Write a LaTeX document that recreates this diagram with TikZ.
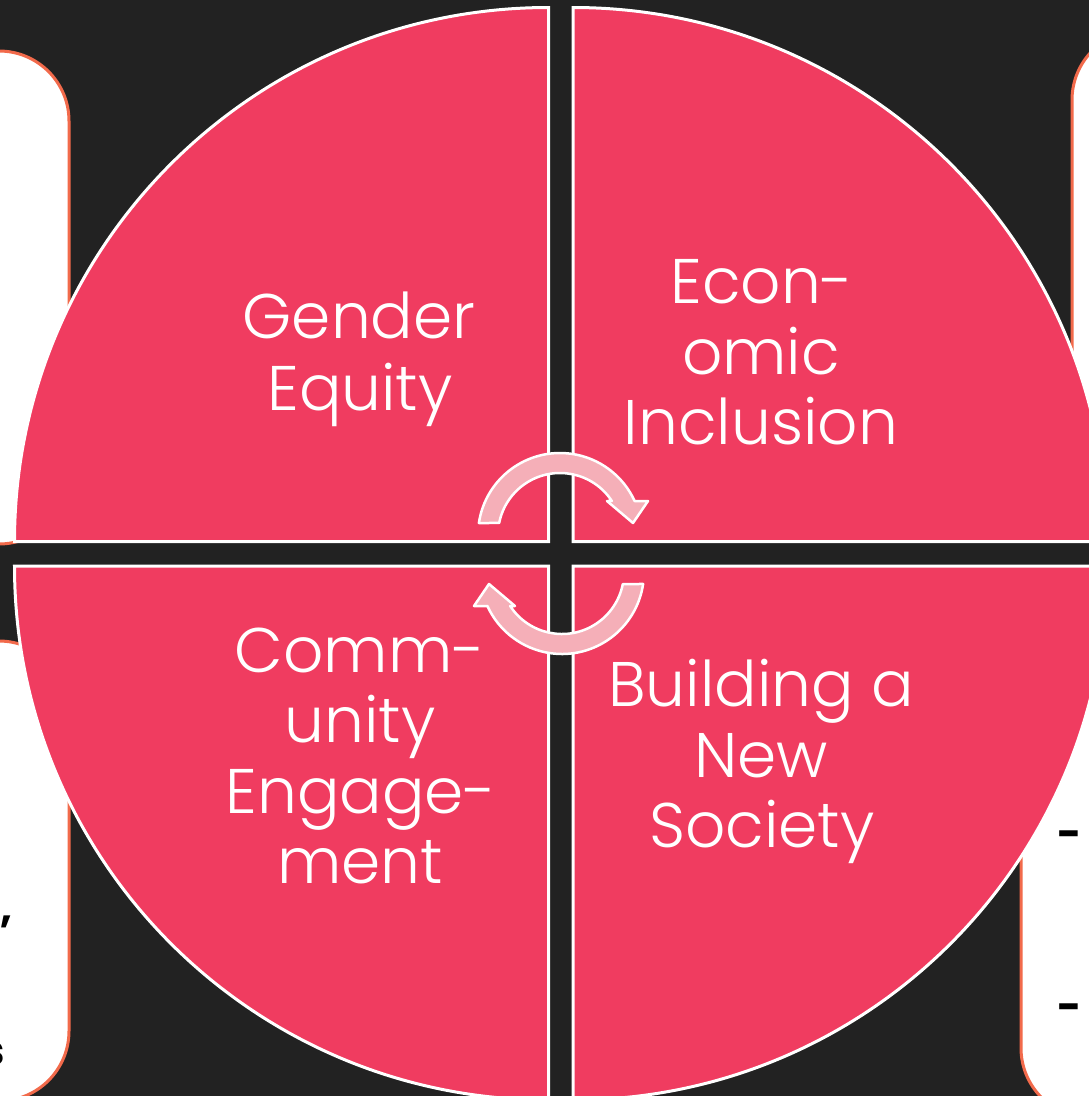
\documentclass[tikz,border=0pt]{standalone}
\usepackage{fontspec}
\setmainfont{Poppins}
\IfFontExistsTF{Poppins Light}{\newfontfamily\lblfont{Poppins Light}}{\newfontfamily\lblfont{Poppins}}
\usetikzlibrary{calc}
\definecolor{bgdark}{HTML}{222222}
\definecolor{pie}{HTML}{F03C60}
\definecolor{boxline}{HTML}{F26A4B}
\definecolor{arrowfill}{HTML}{F5AFB8}
\begin{document}
\begin{tikzpicture}[x=1pt,y=-1pt,
  sidebox/.style={draw=boxline, line width=3pt, fill=white, rounded corners=70pt},
  quarter/.style={fill=pie, draw=white, line width=3pt, line join=miter},
  cyc/.style={fill=arrowfill, draw=white, line width=2.5pt, line join=round},
  lbl/.style={text=white, font=\lblfont\fontsize{63}{71}\selectfont, inner sep=0pt, anchor=base},
  frag/.style={text=black, font=\fontsize{42}{50}\selectfont\bfseries, inner sep=0pt}
]
\useasboundingbox (0,0) rectangle (1089,1096);
\fill[bgdark] (0,0) rectangle (1089,1096);

% side boxes (mostly hidden behind the circle)
\draw[sidebox] (-200,51) rectangle (69,544);
\draw[sidebox] (-200,641) rectangle (69,1101);
\draw[sidebox] (1072,30) rectangle (1300,562);
\draw[sidebox] (1021,580) rectangle (1300,1118);

% text fragments of the side boxes
\node[frag, anchor=base east] (fa) at (13,922) {,};
\node[frag, anchor=base east] (fb) at (5,1065) {s};
\node[frag, anchor=center] (fc) at (1070,840) {-};
\node[frag, anchor=center] (fd) at (1070,1013) {-};

% four quarters
\draw[quarter] (548.5,541.5) -- (14.5,541.5) arc[start angle=180, end angle=270, radius=534] -- cycle;
\draw[quarter] (573,541.5) -- (573,7.5) arc[start angle=270, end angle=360, radius=534] -- cycle;
\draw[quarter] (573,566) -- (1107,566) arc[start angle=0, end angle=90, radius=534] -- cycle;
\draw[quarter] (548.5,566) -- (548.5,1100) arc[start angle=90, end angle=180, radius=534] -- cycle;

% circular arrows
\coordinate (c1) at (560,535);
\coordinate (c2) at (562,572);
\draw[cyc] ($(c1)+(188.4:82)$) arc[start angle=188.4, end angle=335.5, radius=82]
  -- (648,501) -- (633,523) -- (607,501) -- ($(c1)+(326.7:62)$)
  arc[start angle=326.7, end angle=191.2, radius=62] -- cycle;
\draw[cyc] ($(c2)+(8.4:82)$) arc[start angle=8.4, end angle=155.5, radius=82]
  -- (474,606) -- (489,584) -- (515,606) -- ($(c2)+(146.7:62)$)
  arc[start angle=146.7, end angle=11.2, radius=62] -- cycle;

% labels
\node[lbl] (ge1) at (359,338) {Gender};
\node[lbl] (ge2) at (360,410) {Equity};

\node[lbl] (ei1) at (762,303) {Econ-};
\node[lbl] (ei2) at (761,374) {omic};
\node[lbl] (ei3) at (761,444) {Inclusion};

\node[lbl] (ce1) at (360,672) {Comm-};
\node[lbl] (ce2) at (360,742) {unity};
\node[lbl] (ce3) at (361,813) {Engage-};
\node[lbl] (ce4) at (360,883) {ment};

\node[lbl] (bn1) at (761,706) {Building a};
\node[lbl] (bn2) at (761,777) {New};
\node[lbl] (bn3) at (762,847) {Society};
\end{tikzpicture}
\end{document}
